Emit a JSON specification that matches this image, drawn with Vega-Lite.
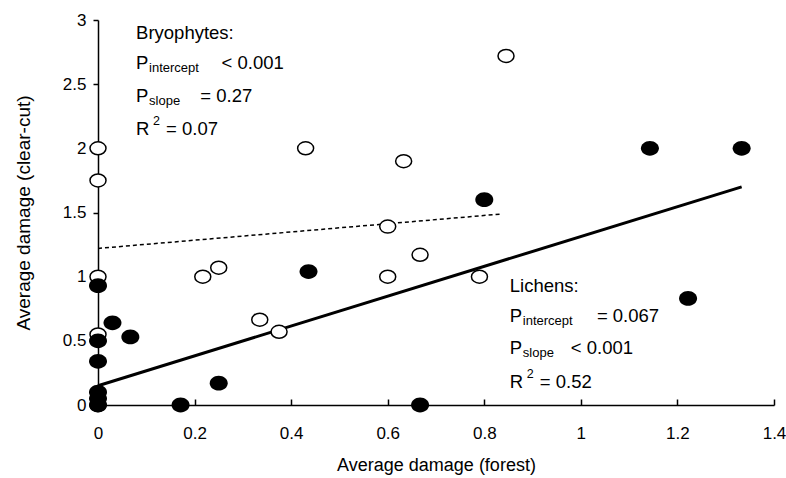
{
  "$schema": "https://vega.github.io/schema/vega-lite/v6.json",
  "width": 676,
  "height": 385,
  "autosize": "none",
  "padding": {"left": 98, "top": 20, "right": 12, "bottom": 73},
  "background": "white",
  "config": {
    "view": {"stroke": null},
    "font": "Liberation Sans",
    "axis": {
      "grid": false,
      "domainColor": "black",
      "domainWidth": 1.5,
      "tickColor": "black",
      "tickWidth": 1.5,
      "labelColor": "black",
      "titleColor": "black",
      "labelFont": "Liberation Sans",
      "titleFont": "Liberation Sans",
      "titleFontWeight": "normal",
      "labelFontSize": 17,
      "titleFontSize": 18,
      "labelFlush": false
    }
  },
  "datasets": {
    "points": [
      {"x": 0, "y": 2.0, "group": "Bryophytes"},
      {"x": 0, "y": 1.75, "group": "Bryophytes"},
      {"x": 0, "y": 1.0, "group": "Bryophytes"},
      {"x": 0, "y": 0.55, "group": "Bryophytes"},
      {"x": 0, "y": 0, "group": "Bryophytes"},
      {"x": 0.217, "y": 1.0, "group": "Bryophytes"},
      {"x": 0.25, "y": 1.07, "group": "Bryophytes"},
      {"x": 0.335, "y": 0.665, "group": "Bryophytes"},
      {"x": 0.375, "y": 0.57, "group": "Bryophytes"},
      {"x": 0.43, "y": 2.0, "group": "Bryophytes"},
      {"x": 0.6, "y": 1.39, "group": "Bryophytes"},
      {"x": 0.6, "y": 1.0, "group": "Bryophytes"},
      {"x": 0.633, "y": 1.9, "group": "Bryophytes"},
      {"x": 0.667, "y": 1.17, "group": "Bryophytes"},
      {"x": 0.79, "y": 1.0, "group": "Bryophytes"},
      {"x": 0.845, "y": 2.72, "group": "Bryophytes"},
      {"x": 0, "y": 0.93, "group": "Lichens"},
      {"x": 0, "y": 0.5, "group": "Lichens"},
      {"x": 0, "y": 0.34, "group": "Lichens"},
      {"x": 0, "y": 0.1, "group": "Lichens"},
      {"x": 0, "y": 0.05, "group": "Lichens"},
      {"x": 0, "y": 0, "group": "Lichens"},
      {"x": 0.03, "y": 0.64, "group": "Lichens"},
      {"x": 0.067, "y": 0.53, "group": "Lichens"},
      {"x": 0.171, "y": 0, "group": "Lichens"},
      {"x": 0.25, "y": 0.17, "group": "Lichens"},
      {"x": 0.436, "y": 1.04, "group": "Lichens"},
      {"x": 0.667, "y": 0, "group": "Lichens"},
      {"x": 0.8, "y": 1.6, "group": "Lichens"},
      {"x": 1.143, "y": 2.0, "group": "Lichens"},
      {"x": 1.222, "y": 0.83, "group": "Lichens"},
      {"x": 1.333, "y": 2.0, "group": "Lichens"}
    ],
    "fits": [
      {"x": 0, "y": 1.22, "group": "Bryophytes"},
      {"x": 0.835, "y": 1.488, "group": "Bryophytes"},
      {"x": 0, "y": 0.15, "group": "Lichens"},
      {"x": 1.333, "y": 1.7, "group": "Lichens"}
    ],
    "notes": [
      {"x": 0.0788, "y": 2.855, "kind": "main", "text": "Bryophytes:"},
      {"x": 0.0788, "y": 2.621, "kind": "main", "text": "P"},
      {"x": 0.1057, "y": 2.597, "kind": "sub", "text": "intercept"},
      {"x": 0.2560, "y": 2.621, "kind": "main", "text": "< 0.001"},
      {"x": 0.0788, "y": 2.363, "kind": "main", "text": "P"},
      {"x": 0.1057, "y": 2.34, "kind": "sub", "text": "slope"},
      {"x": 0.2120, "y": 2.363, "kind": "main", "text": "= 0.27"},
      {"x": 0.0788, "y": 2.106, "kind": "main", "text": "R"},
      {"x": 0.114, "y": 2.184, "kind": "sup", "text": "2"},
      {"x": 0.1409, "y": 2.106, "kind": "main", "text": "= 0.07"},
      {"x": 0.8528, "y": 0.8814, "kind": "main", "text": "Lichens:"},
      {"x": 0.8528, "y": 0.6474, "kind": "main", "text": "P"},
      {"x": 0.8798, "y": 0.624, "kind": "sub", "text": "intercept"},
      {"x": 1.0332, "y": 0.6474, "kind": "main", "text": "= 0.067"},
      {"x": 0.8528, "y": 0.3939, "kind": "main", "text": "P"},
      {"x": 0.8798, "y": 0.3705, "kind": "sub", "text": "slope"},
      {"x": 0.9793, "y": 0.3939, "kind": "main", "text": "< 0.001"},
      {"x": 0.8528, "y": 0.1326, "kind": "main", "text": "R"},
      {"x": 0.8881, "y": 0.2106, "kind": "sup", "text": "2"},
      {"x": 0.915, "y": 0.1326, "kind": "main", "text": "= 0.52"}
    ]
  },
  "encoding": {
    "x": {
      "field": "x", "type": "quantitative",
      "scale": {"domain": [0, 1.4], "nice": false, "zero": false},
      "axis": {
        "title": "Average damage (forest)",
        "values": [0, 0.2, 0.4, 0.6, 0.8, 1, 1.2, 1.4],
        "format": "~g",
        "tickSize": -6,
        "labelPadding": 26,
        "titlePadding": 15
      }
    },
    "y": {
      "field": "y", "type": "quantitative",
      "scale": {"domain": [0, 3], "nice": false, "zero": false},
      "axis": {
        "title": "Average damage (clear-cut)",
        "values": [0, 0.5, 1, 1.5, 2, 2.5, 3],
        "format": "~g",
        "tickSize": 5,
        "labelPadding": 7,
        "titleFontSize": 19,
        "titlePadding": 29
      }
    }
  },
  "layer": [
    {
      "data": {"name": "fits"},
      "transform": [{"filter": "datum.group === 'Lichens'"}],
      "mark": {"type": "line", "color": "black", "strokeWidth": 3}
    },
    {
      "data": {"name": "fits"},
      "transform": [{"filter": "datum.group === 'Bryophytes'"}],
      "mark": {"type": "line", "color": "black", "strokeWidth": 1.5, "strokeDash": [4, 3]}
    },
    {
      "data": {"name": "points"},
      "transform": [{"filter": "datum.group === 'Bryophytes'"}],
      "mark": {
        "type": "point",
        "shape": "M-0.889,0A0.889,0.722,0,1,1,0.889,0A0.889,0.722,0,1,1,-0.889,0Z",
        "size": 324,
        "filled": true,
        "fill": "white",
        "stroke": "black",
        "strokeWidth": 1.5,
        "opacity": 1
      }
    },
    {
      "data": {"name": "points"},
      "transform": [{"filter": "datum.group === 'Lichens'"}],
      "mark": {
        "type": "point",
        "shape": "M-1,0A1,0.82,0,1,1,1,0A1,0.82,0,1,1,-1,0Z",
        "size": 324,
        "filled": true,
        "fill": "black",
        "strokeWidth": 0,
        "opacity": 1
      }
    },
    {
      "data": {"name": "notes"},
      "transform": [{"filter": "datum.kind === 'main'"}],
      "mark": {"type": "text", "align": "left", "baseline": "alphabetic", "fontSize": 18.5, "font": "Liberation Sans", "color": "black"},
      "encoding": {"text": {"field": "text"}}
    },
    {
      "data": {"name": "notes"},
      "transform": [{"filter": "datum.kind === 'sub'"}],
      "mark": {"type": "text", "align": "left", "baseline": "alphabetic", "fontSize": 13, "font": "Liberation Sans", "color": "black"},
      "encoding": {"text": {"field": "text"}}
    },
    {
      "data": {"name": "notes"},
      "transform": [{"filter": "datum.kind === 'sup'"}],
      "mark": {"type": "text", "align": "left", "baseline": "alphabetic", "fontSize": 12.5, "font": "Liberation Sans", "color": "black"},
      "encoding": {"text": {"field": "text"}}
    }
  ]
}
